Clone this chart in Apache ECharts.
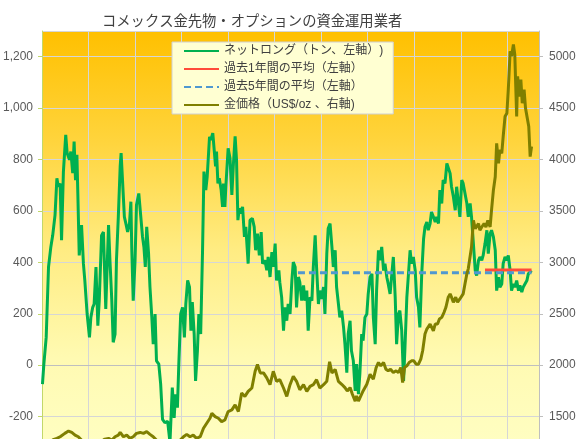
<!DOCTYPE html>
<html>
<head>
<meta charset="utf-8">
<title>コメックス金先物・オプションの資金運用業者</title>
<script src="https://cdn.jsdelivr.net/npm/echarts@6/dist/echarts.min.js"></script>
<style>
    html, body { margin: 0; padding: 0; background: #fff; }
    #main { width: 577px; height: 439px; }
</style>
</head>
<body>
<div id="main"></div>
<script>
// 凡例の名前
var seriesNames = ['ネットロング（トン、左軸）)', '過去1年間の平均（左軸）', '過去5年間の平均（左軸）', '金価格（US$/oz 、右軸)'];

// ネットロング（トン） [年, 値]
var netLong = [
    [2016.01,-74],[2016.04,4],[2016.09,108],[2016.14,382],[2016.19,460],[2016.23,505],[2016.28,584],[2016.32,727],[2016.35,694],[2016.39,707],[2016.42,486],[2016.46,753],[2016.51,896],[2016.54,825],[2016.59,799],[2016.62,831],[2016.66,747],[2016.69,870],[2016.72,720],[2016.75,818],[2016.77,668],[2016.80,427],[2016.85,545],[2016.89,395],[2016.92,330],[2016.97,199],
    [2017.02,108],[2017.05,186],[2017.09,225],[2017.12,238],[2017.16,382],[2017.20,154],[2017.23,251],[2017.28,505],[2017.32,518],[2017.37,219],[2017.43,545],[2017.46,408],[2017.50,251],[2017.53,89],[2017.57,121],[2017.60,408],[2017.64,577],[2017.68,773],[2017.70,825],[2017.73,720],[2017.77,577],[2017.81,545],[2017.84,518],[2017.88,551],[2017.91,636],[2017.93,447],[2017.96,251],
    [2018.00,408],[2018.03,623],[2018.08,668],[2018.12,584],[2018.16,499],[2018.19,460],[2018.22,382],[2018.25,538],[2018.29,434],[2018.32,304],[2018.36,186],[2018.39,82],[2018.43,199],[2018.46,17],[2018.51,4],[2018.55,-74],[2018.59,-211],[2018.64,-224],[2018.70,-218],[2018.75,-300],[2018.80,-87],[2018.84,-205],[2018.87,-113],[2018.91,-165],[2018.94,4],[2018.98,199],
    [2019.02,225],[2019.06,108],[2019.09,238],[2019.13,330],[2019.17,304],[2019.20,134],[2019.23,245],[2019.27,121],[2019.30,-61],[2019.34,56],[2019.37,199],[2019.41,121],[2019.45,447],[2019.48,753],[2019.52,681],[2019.55,734],[2019.60,888],[2019.63,877],[2019.67,903],[2019.70,910],[2019.73,773],[2019.75,831],[2019.78,707],[2019.81,727],[2019.85,681],[2019.88,616],[2019.90,707],[2019.93,616],[2019.95,694],
    [2020.00,844],[2020.04,805],[2020.08,662],[2020.11,773],[2020.15,890],[2020.18,799],[2020.21,564],[2020.24,610],[2020.28,590],[2020.31,616],[2020.35,499],[2020.38,538],[2020.43,395],[2020.47,564],[2020.52,571],[2020.56,538],[2020.59,447],[2020.63,512],[2020.67,427],[2020.71,518],[2020.74,395],[2020.79,408],[2020.83,369],[2020.86,421],[2020.90,343],[2020.94,440],[2020.97,382],
    [2021.01,473],[2021.04,330],[2021.09,369],[2021.11,323],[2021.15,264],[2021.19,134],[2021.22,225],[2021.26,173],[2021.29,238],[2021.33,199],[2021.37,330],[2021.40,401],[2021.44,382],[2021.47,225],[2021.51,343],[2021.54,323],[2021.58,251],[2021.62,310],[2021.65,251],[2021.69,290],[2021.72,134],[2021.76,264],[2021.80,251],[2021.83,382],[2021.87,505],[2021.90,382],[2021.94,238],[2021.97,290],
    [2022.01,258],[2022.05,304],[2022.08,199],[2022.12,434],[2022.15,532],[2022.19,551],[2022.23,460],[2022.26,382],[2022.30,447],[2022.33,304],[2022.37,238],[2022.40,186],[2022.44,212],[2022.48,147],[2022.51,82],[2022.55,-29],[2022.58,121],[2022.62,173],[2022.65,56],[2022.69,17],[2022.73,-100],[2022.76,4],[2022.80,-113],[2022.83,-35],[2022.87,121],[2022.90,95],[2022.94,186],[2022.98,199],
    [2023.01,277],[2023.05,343],[2023.09,355],[2023.12,186],[2023.16,82],[2023.19,290],[2023.23,447],[2023.26,408],[2023.30,460],[2023.34,368],[2023.37,395],[2023.41,342],[2023.44,316],[2023.48,277],[2023.51,277],[2023.55,421],[2023.59,264],[2023.62,82],[2023.66,199],[2023.69,212],[2023.73,134],[2023.77,-61],[2023.80,69],[2023.84,264],[2023.87,342],[2023.91,447],[2023.94,395],[2023.98,421],
    [2024.02,368],[2024.05,264],[2024.09,225],[2024.12,147],[2024.16,355],[2024.20,492],[2024.23,538],[2024.27,557],[2024.30,525],[2024.34,551],[2024.37,596],[2024.41,577],[2024.45,557],[2024.48,577],[2024.52,551],[2024.55,681],[2024.59,629],[2024.62,720],[2024.66,707],[2024.70,785],[2024.73,792],[2024.77,746],[2024.80,694],[2024.84,655],[2024.88,603],[2024.91,694],[2024.95,629],[2024.98,577],
    [2025.02,720],[2025.05,707],[2025.09,668],[2025.13,629],[2025.16,577],[2025.20,629],[2025.23,577],[2025.27,473],[2025.31,368],[2025.34,349],[2025.38,408],[2025.41,421],[2025.45,408],[2025.48,427],[2025.52,473],[2025.56,525],[2025.59,434],[2025.63,512],[2025.66,525],[2025.70,499],[2025.74,447],[2025.77,290],[2025.81,342],[2025.84,303],[2025.88,316],[2025.91,395],[2025.95,421],[2025.99,408],
    [2026.02,427],[2026.06,368],[2026.09,290],[2026.13,316],[2026.16,303],[2026.20,329],[2026.24,290],[2026.27,310],[2026.31,284],[2026.34,303],[2026.38,303],[2026.42,329],[2026.45,355],[2026.49,362],[2026.52,368]
];

// 過去1年間・5年間の平均（左軸）
var avg1y = [[2025.52, 370], [2026.52, 370]];
var avg5y = [[2021.50, 360], [2026.52, 360]];

// 金価格（US$/oz） [年, 値]
var goldPrice = [
    [2016.00,1090],[2016.08,1180],[2016.17,1250],[2016.24,1275],[2016.32,1288],[2016.39,1304],[2016.49,1337],[2016.57,1359],[2016.64,1346],[2016.71,1320],[2016.78,1304],[2016.85,1271],[2016.95,1200],
    [2017.05,1170],[2017.15,1220],[2017.25,1250],[2017.35,1281],[2017.43,1288],[2017.50,1271],[2017.57,1304],[2017.64,1320],[2017.68,1346],[2017.75,1304],[2017.82,1320],[2017.89,1288],[2017.96,1304],
    [2018.03,1337],[2018.11,1346],[2018.18,1337],[2018.25,1353],[2018.32,1327],[2018.39,1304],[2018.46,1271],[2018.55,1230],[2018.65,1190],[2018.75,1200],[2018.85,1220],[2018.97,1271],
    [2019.04,1304],[2019.11,1327],[2019.18,1304],[2019.25,1320],[2019.32,1288],[2019.40,1304],[2019.47,1386],[2019.54,1435],[2019.61,1484],[2019.65,1533],[2019.72,1500],[2019.79,1484],[2019.86,1451],[2019.93,1467],
    [2020.00,1549],[2020.08,1565],[2020.15,1614],[2020.22,1549],[2020.29,1729],[2020.36,1696],[2020.43,1745],[2020.51,1778],[2020.58,1941],[2020.63,2007],[2020.69,1925],[2020.76,1925],[2020.83,1876],[2020.90,1810],[2020.97,1941],
    [2021.04,1843],[2021.11,1859],[2021.19,1778],[2021.26,1696],[2021.33,1810],[2021.40,1892],[2021.47,1843],[2021.54,1761],[2021.62,1810],[2021.69,1745],[2021.76,1794],[2021.83,1810],[2021.90,1859],[2021.97,1778],
    [2022.05,1810],[2022.12,1843],[2022.18,2033],[2022.23,1925],[2022.30,1958],[2022.37,1843],[2022.44,1814],[2022.51,1782],[2022.56,1749],[2022.62,1782],[2022.67,1717],[2022.73,1651],[2022.76,1700],[2022.80,1651],[2022.83,1668],[2022.90,1749],[2022.98,1814],
    [2023.05,1912],[2023.09,1928],[2023.12,1863],[2023.18,1977],[2023.23,2026],[2023.28,1993],[2023.34,2026],[2023.39,1961],[2023.44,1945],[2023.49,1961],[2023.55,1928],[2023.61,1945],[2023.66,1928],[2023.71,1977],[2023.75,1831],[2023.79,1977],[2023.84,1993],[2023.89,2026],[2023.94,2042],[2023.99,2042],
    [2024.04,2010],[2024.09,2010],[2024.14,2059],[2024.18,2140],[2024.23,2303],[2024.27,2351],[2024.30,2335],[2024.34,2400],[2024.37,2390],[2024.41,2335],[2024.45,2400],[2024.50,2400],[2024.54,2449],[2024.59,2465],[2024.64,2514],[2024.68,2563],[2024.73,2661],[2024.77,2693],[2024.80,2661],[2024.84,2612],[2024.89,2661],[2024.93,2612],[2024.98,2644],
    [2025.02,2628],[2025.05,2693],[2025.09,2791],[2025.13,2889],[2025.16,2937],[2025.20,2954],[2025.23,3149],[2025.27,3409],[2025.31,3328],[2025.34,3312],[2025.38,3377],[2025.41,3312],[2025.45,3344],[2025.50,3377],[2025.54,3344],[2025.58,3409],[2025.63,3344],[2025.66,3507],[2025.70,3702],[2025.74,3832],[2025.77,4158],[2025.81,3963],[2025.84,4093],[2025.88,4060],[2025.91,4223],[2025.95,4418],[2025.99,4451],
    [2026.02,4679],[2026.06,5053],[2026.09,5004],[2026.13,5118],[2026.16,5020],[2026.20,4418],[2026.22,4809],[2026.26,4613],[2026.29,4777],[2026.32,4548],[2026.36,4679],[2026.39,4500],[2026.43,4484],[2026.46,4321],[2026.49,4028],[2026.52,4126]
];

// 軸の範囲（下側は画像の外まで続いている）
var leftAxis = { min: -400, max: 1300, interval: 200 };
var rightAxis = { min: 1000, max: 5250, interval: 500 };
var yearAxis = { min: 2016, max: 2026.68, interval: 1 };

var latinFont = '"Liberation Sans", "Noto Sans CJK JP", sans-serif';
var jpFont = '"Noto Sans CJK JP", sans-serif';

function lineSeries(name, data, color, yIndex, dashed){
    return {
        name: name,
        type: 'line',
        yAxisIndex: yIndex,
        data: data,
        symbol: 'none',
        showSymbol: false,
        smooth: false,
        lineStyle: {
            color: color,
            width: 3,
            type: dashed ? [7, 4] : 'solid'
        },
        itemStyle: { color: color }
    };
}

var chart = echarts.init(document.getElementById('main'), null, { renderer: 'canvas' });

var option = {
    animation: false,
    backgroundColor: '#ffffff',
    title: {
        text: 'コメックス金先物・オプションの資金運用業者',
        left: 97,
        top: 8,
        textStyle: {
            fontFamily: jpFont,
            fontSize: 14.3,
            fontWeight: 'normal',
            color: '#404040'
        }
    },
    grid: {
        left: 42,
        top: 31,
        width: 497,
        height: 437,
        // v6 のはみ出し調整を切る（下は画像外まで伸ばす）
        outerBoundsMode: 'none',
        containLabel: false,
        show: true,
        borderWidth: 0,
        // 上がオレンジ、下が薄い黄色のグラデーション
        backgroundColor: new echarts.graphic.LinearGradient(0, 0, 0, 1, [
            { offset: 0, color: '#FFC000' },
            { offset: 0.25, color: '#FFD43C' },
            { offset: 0.5, color: '#FFEC82' },
            { offset: 0.75, color: '#FFFAB2' },
            { offset: 1, color: '#FFFFC6' }
        ])
    },
    legend: {
        orient: 'vertical',
        left: 172,
        top: 42,
        padding: [3, 10, 3, 11],
        itemWidth: 35,
        itemHeight: 14,
        itemGap: 6,
        backgroundColor: '#FFFFD2',
        borderColor: '#D0D0D0',
        borderWidth: 1,
        // 線だけ見せる（丸は消す）
        itemStyle: { opacity: 0 },
        textStyle: {
            fontFamily: latinFont,
            fontSize: 12,
            color: '#404040'
        },
        data: seriesNames
    },
    xAxis: {
        type: 'value',
        min: yearAxis.min,
        max: yearAxis.max,
        interval: yearAxis.interval,
        axisLine: { show: true, lineStyle: { color: '#BFBFBF' } },
        axisTick: { show: false },
        axisLabel: { show: false },
        splitLine: { show: true, lineStyle: { color: '#D6D6D6', width: 1 } }
    },
    yAxis: [
        {
            type: 'value',
            position: 'left',
            min: leftAxis.min,
            max: leftAxis.max,
            interval: leftAxis.interval,
            axisLine: { show: true, lineStyle: { color: '#C2D86A', width: 1 } },
            axisTick: { show: true, length: 4, lineStyle: { color: '#C2D86A' } },
            axisLabel: {
                showMaxLabel: false,
                margin: 9,
                fontFamily: latinFont,
                fontSize: 12,
                color: '#595959',
                formatter: function(v){
                    return echarts.format.addCommas(v);
                }
            },
            splitLine: { show: true, lineStyle: { color: '#D6D6D6', width: 1 } }
        },
        {
            type: 'value',
            position: 'right',
            min: rightAxis.min,
            max: rightAxis.max,
            interval: rightAxis.interval,
            axisLine: { show: true, lineStyle: { color: '#BFBFBF', width: 1 } },
            axisTick: { show: true, length: 4, lineStyle: { color: '#BFBFBF' } },
            axisLabel: {
                showMaxLabel: false,
                margin: 10,
                fontFamily: latinFont,
                fontSize: 12,
                color: '#595959',
                formatter: function(v){
                    return String(v);
                }
            },
            splitLine: { show: false }
        }
    ],
    series: [
        lineSeries(seriesNames[0], netLong, '#00B050', 0, false),
        lineSeries(seriesNames[1], avg1y, '#FF4B3A', 0, false),
        lineSeries(seriesNames[2], avg5y, '#4F98D0', 0, true),
        lineSeries(seriesNames[3], goldPrice, '#7F7F00', 1, false)
    ]
};

chart.setOption(option);
</script>
</body>
</html>
